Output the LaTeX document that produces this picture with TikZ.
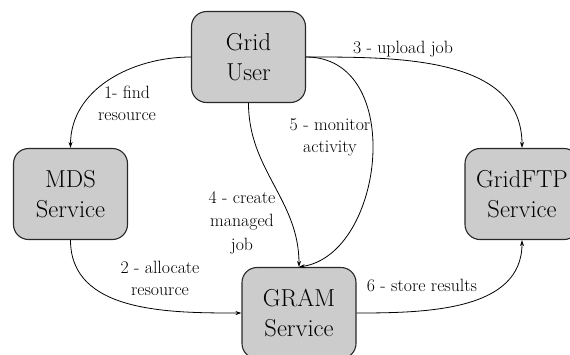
\documentclass[tikz,border=0pt]{standalone}
\usetikzlibrary{arrows.meta}
\definecolor{boxfill}{RGB}{204,204,204}
\definecolor{boxline}{RGB}{40,40,40}
\tikzset{
  svcbox/.style={draw=boxline, fill=boxfill, line width=1.1pt, rounded corners=15pt,
    minimum width=114pt, minimum height=91pt, align=center,
    font=\fontsize{24.5}{30}\selectfont, inner sep=0pt},
  conn/.style={line width=0.8pt, -{Stealth[length=6pt,width=4pt]}},
  lbl/.style={align=center, font=\fontsize{17.8}{22}\selectfont, inner sep=0pt, anchor=base}
}
\begin{document}
\begin{tikzpicture}[x=1pt,y=-1pt]
\useasboundingbox (0,0) rectangle (570,354);
\clip (0,0) rectangle (570,354);
\node[svcbox] (gu) at (248.5,57) {Grid\\User};
\node[svcbox] (mds) at (70.5,194) {MDS\\Service};
\node[svcbox] (ftp) at (522,194) {GridFTP\\Service};
\node[svcbox] (gram) at (299,313) {GRAM\\Service};

\draw[conn] (gu.west) to[out=180,in=90] (mds.north);
\draw[conn] (mds.south) to[out=-90,in=180] (gram.west);
\draw[conn] (gu.east) to[out=0,in=90] (ftp.north);
\draw[conn] (gu.south) to[out=-90,in=90] (gram.north);
\draw[conn] (gu.east) .. controls +(100,0) and +(86,-13) .. (gram.north);
\draw[conn] (gram.east) to[out=0,in=-90] (ftp.south);

\node[lbl] (l1) at (127,120) {1- find\\resource};
\node[lbl] (l2) at (160,295) {2 - allocate\\resource};
\node[lbl] (l3) at (403,53) {3 - upload job};
\node[lbl,font=\fontsize{17.8}{23.5}\selectfont] (l4) at (242,250) {4 - create\\managed\\job};
\node[lbl] (l5) at (330,152) {5 - monitor\\activity};
\node[lbl] (l6) at (422,291) {6 - store results};
\end{tikzpicture}
\end{document}
